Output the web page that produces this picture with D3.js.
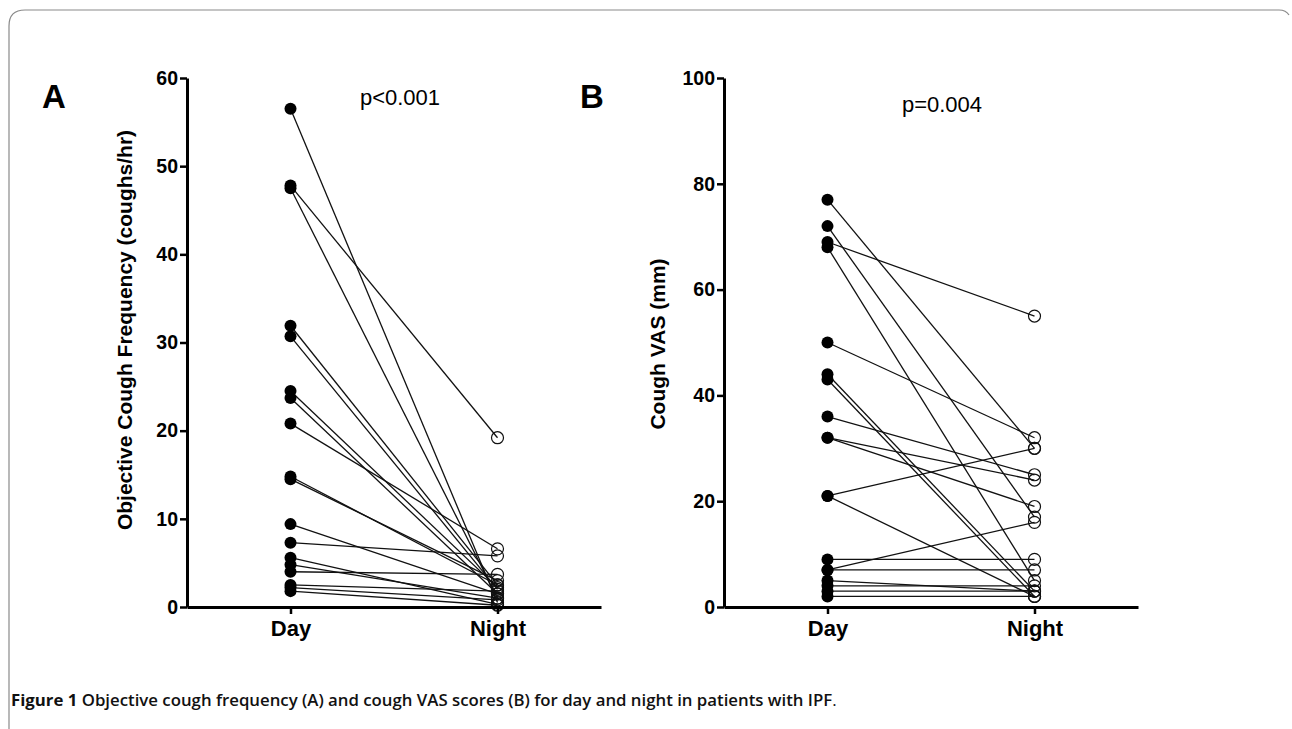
<!DOCTYPE html>
<html>
<head>
<meta charset="utf-8">
<script src="https://cdn.jsdelivr.net/npm/d3@7"></script>
<style>
  body { margin: 0; background: #fff; }
  svg { display: block; }
</style>
</head>
<body>
<div id="chart"></div>
<script>
// categories on the x axis
var groups = ["Day", "Night"];

// panel A: objective cough frequency (coughs/hr), one entry per patient
var freqDay   = [56.5, 47.8, 47.5, 31.9, 30.7, 24.5, 23.7, 20.8, 14.8, 14.5, 9.4, 7.3, 5.6, 4.8, 4.0, 2.5, 2.2, 1.8];
var freqNight = [0.5, 19.2, 1.0, 2.5, 2.0, 2.2, 1.5, 6.6, 2.5, 3.0, 1.5, 5.8, 0.3, 1.0, 3.7, 1.8, 0.8, 0.2];
var freqTicks = [0, 10, 20, 30, 40, 50, 60];

// panel B: cough VAS (mm), one entry per patient
var vasDay   = [77, 72, 69, 68, 50, 44, 43, 36, 32, 32, 21, 21, 9, 7, 7, 5, 4, 3, 2];
var vasNight = [30, 17, 55, 5, 32, 3, 2, 25, 24, 19, 30, 2, 9, 7, 16, 3, 4, 3, 2];
var vasTicks = [0, 20, 40, 60, 80, 100];

var W = 1292, H = 729;
var plotTop = 78, plotBottom = 607;
var font = "'Liberation Sans', Arial, sans-serif";

var svg = d3.select("#chart")
    .append("svg")
    .attr("width", W)
    .attr("height", H);

// frame of the figure box (left + top edge only, rounded corner)
svg.append("path")
    .attr("d", "M9,729 V26 Q9,10 25,10 H1279 Q1286,10 1289,15")
    .attr("fill", "none")
    .attr("stroke", "#8a8a8a")
    .attr("stroke-width", 1.2);

function drawPanel(o) {
    var g = svg.append("g").attr("transform", "translate(" + o.left + ",0)");

    var x = d3.scalePoint()
        .domain(groups)
        .range([0, 414])
        .padding(0.5);

    var y = d3.scaleLinear()
        .domain([0, d3.max(o.ticks)])
        .range([plotBottom, plotTop]);

    var pairs = o.day.map(function (d, i) { return [d, o.night[i]]; });

    // connecting lines
    g.selectAll(".pair")
        .data(pairs)
        .enter().append("line")
        .attr("x1", x("Day"))
        .attr("x2", x("Night"))
        .attr("y1", function (d) { return y(d[0]); })
        .attr("y2", function (d) { return y(d[1]); })
        .attr("stroke", "#111")
        .attr("stroke-width", 1.3);

    // night: open circles
    g.selectAll(".night")
        .data(o.night)
        .enter().append("circle")
        .attr("cx", x("Night"))
        .attr("cy", function (d) { return y(d); })
        .attr("r", 6)
        .attr("fill", "none")
        .attr("stroke", "#111")
        .attr("stroke-width", 1.2);

    // day: filled circles
    g.selectAll(".day")
        .data(o.day)
        .enter().append("circle")
        .attr("cx", x("Day"))
        .attr("cy", function (d) { return y(d); })
        .attr("r", 6)
        .attr("fill", "#000");

    // axes
    var yAxis = g.append("g")
        .call(d3.axisLeft(y).tickValues(o.ticks).tickSize(7).tickSizeOuter(0).tickPadding(2));
    var xAxis = g.append("g")
        .attr("transform", "translate(0," + plotBottom + ")")
        .call(d3.axisBottom(x).tickSize(7).tickSizeOuter(0).tickPadding(6));

    [yAxis, xAxis].forEach(function (a) {
        a.select(".domain").attr("stroke", "#000").attr("stroke-width", 3);
        a.selectAll(".tick line").attr("stroke", "#000").attr("stroke-width", 2.5);
        a.selectAll("text")
            .attr("fill", "#000")
            .style("font-family", font)
            .style("font-weight", "bold");
    });
    yAxis.selectAll("text").style("font-size", "19.5px");
    xAxis.selectAll("text").style("font-size", "22px");

    // y axis title
    g.append("text")
        .attr("transform", "translate(" + o.titleX + "," + o.titleY + ") rotate(-90)")
        .attr("text-anchor", "middle")
        .style("font-family", font)
        .style("font-weight", "bold")
        .style("font-size", "21px")
        .text(o.title);

    // panel letter
    svg.append("text")
        .attr("x", o.letterX)
        .attr("y", 108)
        .style("font-family", font)
        .style("font-weight", "bold")
        .style("font-size", "33px")
        .text(o.letter);

    // p value
    svg.append("text")
        .attr("x", o.pX)
        .attr("y", o.pY)
        .attr("text-anchor", "middle")
        .style("font-family", font)
        .style("font-size", "22px")
        .text(o.p);
}

drawPanel({
    left: 187, day: freqDay, night: freqNight, ticks: freqTicks,
    title: "Objective Cough Frequency (coughs/hr)", titleX: -55, titleY: 330,
    letter: "A", letterX: 42, p: "p<0.001", pX: 400, pY: 105
});

drawPanel({
    left: 724, day: vasDay, night: vasNight, ticks: vasTicks,
    title: "Cough VAS (mm)", titleX: -59, titleY: 344,
    letter: "B", letterX: 580, p: "p=0.004", pX: 942, pY: 112
});

// caption
var cap = svg.append("text")
    .attr("x", 11)
    .attr("y", 706)
    .style("font-family", "'Open Sans', sans-serif")
    .style("font-size", "16.8px")
    .attr("fill", "#111");
cap.append("tspan").style("font-weight", "bold").text("Figure 1 ");
cap.append("tspan").style("font-weight", "600")
    .text("Objective cough frequency (A) and cough VAS scores (B) for day and night in patients with IPF");
cap.append("tspan").text(".");
</script>
</body>
</html>
